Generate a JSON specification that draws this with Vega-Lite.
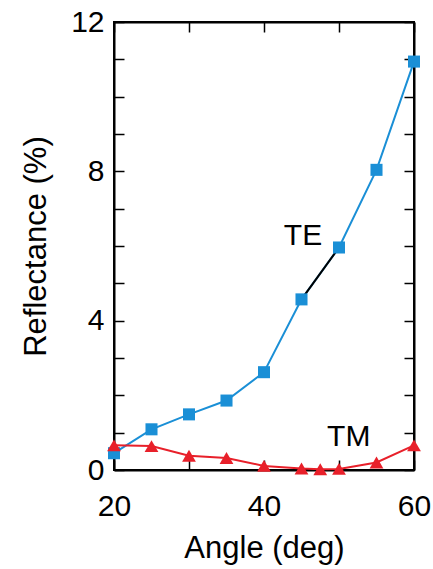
{
  "$schema": "https://vega.github.io/schema/vega-lite/v6.json",
  "width": 300,
  "height": 448,
  "autosize": {"type": "none"},
  "padding": {"left": 114, "top": 22, "right": 19, "bottom": 99},
  "background": "white",
  "config": {
    "font": "Liberation Sans",
    "view": {"stroke": "black", "strokeWidth": 2},
    "axis": {"grid": false, "labelFlush": false, "domainColor": "black", "domainWidth": 2, "tickColor": "black", "tickWidth": 1.5, "labelColor": "black", "titleColor": "black", "labelFont": "Liberation Sans", "titleFont": "Liberation Sans", "titleFontWeight": "normal"}
  },
  "datasets": {
    "te": [
      {"angle": 20, "r": 0.45},
      {"angle": 25, "r": 1.09},
      {"angle": 30, "r": 1.49},
      {"angle": 35, "r": 1.86},
      {"angle": 40, "r": 2.62},
      {"angle": 45, "r": 4.57},
      {"angle": 50, "r": 5.96},
      {"angle": 55, "r": 8.04},
      {"angle": 60, "r": 10.94}
    ],
    "teblack": [
      {"angle": 45, "r": 4.57},
      {"angle": 50, "r": 5.96}
    ],
    "tm": [
      {"angle": 20, "r": 0.66},
      {"angle": 25, "r": 0.64},
      {"angle": 30, "r": 0.38},
      {"angle": 35, "r": 0.32},
      {"angle": 40, "r": 0.11},
      {"angle": 45, "r": 0.04},
      {"angle": 47.5, "r": 0.02},
      {"angle": 50, "r": 0.03},
      {"angle": 55, "r": 0.2},
      {"angle": 60, "r": 0.66}
    ],
    "labels": [
      {"angle": 45.2, "r": 6.03, "text": "TE"},
      {"angle": 51.3, "r": 0.64, "text": "TM"}
    ]
  },
  "layer": [
    {
      "data": {"name": "te"},
      "mark": {"type": "line", "color": "#1a8fd6", "strokeWidth": 2, "clip": false},
      "encoding": {
        "x": {"field": "angle", "type": "quantitative", "scale": {"domain": [20, 60], "nice": false, "zero": false},
          "axis": {"orient": "bottom", "title": "Angle (deg)", "values": [20, 30, 40, 50, 60], "labelExpr": "datum.value % 20 == 0 ? datum.label : ''", "tickSize": -10, "labelPadding": 31, "labelFontSize": 30, "titleFontSize": 31, "titlePadding": 12}},
        "y": {"field": "r", "type": "quantitative", "scale": {"domain": [0, 12], "nice": false},
          "axis": {"orient": "left", "title": "Reflectance (%)", "values": [0,1,2,3,4,5,6,7,8,9,10,11,12], "labelExpr": "datum.value % 4 == 0 ? datum.label : ''", "tickSize": -10, "labelPadding": 20, "labelFontSize": 30, "titleFontSize": 31, "titlePadding": 18}}
      }
    },
    {
      "data": {"name": "teblack"},
      "mark": {"type": "line", "color": "black", "strokeWidth": 2},
      "encoding": {
        "x": {"field": "angle", "type": "quantitative", "axis": null},
        "y": {"field": "r", "type": "quantitative", "axis": null}
      }
    },
    {
      "data": {"name": "tm"},
      "mark": {"type": "line", "color": "#e8202a", "strokeWidth": 2, "clip": false},
      "encoding": {
        "x": {"field": "angle", "type": "quantitative", "axis": null},
        "y": {"field": "r", "type": "quantitative", "axis": null}
      }
    },
    {
      "data": {"name": "te"},
      "mark": {"type": "point", "shape": "square", "filled": true, "size": 145, "color": "#1a8fd6", "opacity": 1, "clip": false},
      "encoding": {
        "x": {"field": "angle", "type": "quantitative", "axis": null},
        "y": {"field": "r", "type": "quantitative", "axis": null}
      }
    },
    {
      "data": {"name": "tm"},
      "mark": {"type": "point", "shape": "triangle-up", "filled": true, "size": 190, "color": "#e8202a", "opacity": 1, "clip": false},
      "encoding": {
        "x": {"field": "angle", "type": "quantitative",
          "axis": {"orient": "top", "title": null, "values": [20, 30, 40, 50, 60], "labels": false, "tickSize": -10}},
        "y": {"field": "r", "type": "quantitative",
          "axis": {"orient": "right", "title": null, "values": [0,1,2,3,4,5,6,7,8,9,10,11,12], "labels": false, "tickSize": -10}}
      }
    },
    {
      "data": {"name": "labels"},
      "mark": {"type": "text", "fontSize": 30, "color": "black", "align": "center", "baseline": "alphabetic"},
      "encoding": {
        "x": {"field": "angle", "type": "quantitative", "axis": null},
        "y": {"field": "r", "type": "quantitative", "axis": null},
        "text": {"field": "text"}
      }
    }
  ],
  "resolve": {"axis": {"x": "independent", "y": "independent"}}
}
